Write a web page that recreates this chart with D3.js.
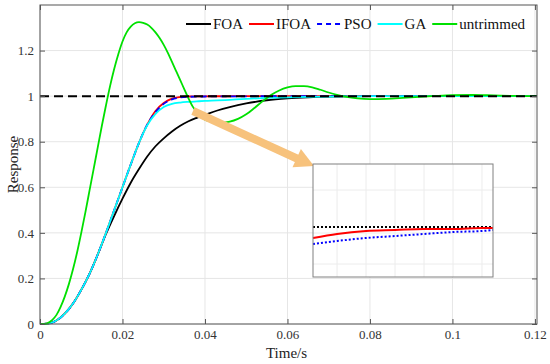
<!DOCTYPE html>
<html>
<head>
<meta charset="utf-8">
<script src="https://cdn.jsdelivr.net/npm/d3@7"></script>
<style>
  body { margin: 0; background: #fff; }
  svg { font-family: "Liberation Serif", "Times New Roman", serif; }
</style>
</head>
<body>
<div id="chart"></div>
<script>
// shared time grid for the four tuned responses
var time = [0, 0.002, 0.004, 0.006, 0.008, 0.010, 0.012, 0.014, 0.016, 0.018, 0.020, 0.022, 0.024,
            0.026, 0.028, 0.030, 0.032, 0.034, 0.036, 0.038, 0.040, 0.043, 0.046, 0.050, 0.055,
            0.060, 0.065, 0.070, 0.080, 0.090, 0.100, 0.110, 0.1205];
var foa  = [0, 0.002, 0.015, 0.045, 0.09, 0.15, 0.22, 0.305, 0.395, 0.475, 0.55, 0.62, 0.68,
            0.735, 0.78, 0.815, 0.845, 0.87, 0.89, 0.905, 0.918, 0.937, 0.952, 0.968, 0.982,
            0.99, 0.995, 0.998, 1, 1, 1, 1, 1];
var ifoa = [0, 0.002, 0.015, 0.045, 0.09, 0.15, 0.22, 0.305, 0.40, 0.50, 0.60, 0.70, 0.795,
            0.875, 0.935, 0.97, 0.989, 0.996, 0.9985, 0.9992, 0.9994, 0.9995, 0.9996, 0.9997, 0.9998,
            0.9999, 1, 1, 1, 1, 1, 1, 1];
var pso  = [0, 0.002, 0.015, 0.045, 0.09, 0.15, 0.22, 0.305, 0.40, 0.50, 0.60, 0.70, 0.795,
            0.875, 0.93, 0.966, 0.986, 0.994, 0.997, 0.998, 0.9985, 0.999, 0.9992, 0.9994, 0.9996,
            0.9998, 0.9999, 1, 1, 1, 1, 1, 1];
var ga   = [0, 0.002, 0.015, 0.045, 0.09, 0.15, 0.22, 0.305, 0.40, 0.50, 0.60, 0.70, 0.795,
            0.872, 0.922, 0.952, 0.966, 0.972, 0.975, 0.977, 0.979, 0.981, 0.984, 0.988, 0.992,
            0.995, 0.997, 0.998, 1, 1, 1, 1, 1];

// untrimmed response has its own time points
var untrimT = [0, 0.001, 0.002, 0.003, 0.004, 0.005, 0.006, 0.007, 0.008, 0.009, 0.010, 0.011,
               0.012, 0.013, 0.014, 0.015, 0.016, 0.017, 0.018, 0.019, 0.020, 0.021, 0.022, 0.023,
               0.024, 0.025, 0.026, 0.027, 0.028, 0.029, 0.030, 0.031, 0.032, 0.033, 0.034, 0.035,
               0.036, 0.037, 0.038, 0.039, 0.040, 0.042, 0.044, 0.046, 0.048, 0.050, 0.052, 0.054,
               0.056, 0.058, 0.060, 0.062, 0.064, 0.066, 0.068, 0.070, 0.072, 0.074, 0.077, 0.080,
               0.084, 0.088, 0.092, 0.096, 0.100, 0.105, 0.110, 0.115, 0.1205];
var untrimV = [0, 0, 0.005, 0.018, 0.04, 0.075, 0.12, 0.175, 0.24, 0.315, 0.40, 0.49,
               0.585, 0.68, 0.775, 0.87, 0.96, 1.045, 1.12, 1.185, 1.24, 1.28, 1.305, 1.32,
               1.325, 1.322, 1.314, 1.30, 1.28, 1.255, 1.225, 1.19, 1.15, 1.11, 1.07, 1.03,
               0.99, 0.955, 0.93, 0.91, 0.897, 0.887, 0.884, 0.888, 0.90, 0.92, 0.948, 0.978,
               1.005, 1.025, 1.038, 1.044, 1.044, 1.039, 1.028, 1.016, 1.006, 0.998, 0.99, 0.987,
               0.988, 0.992, 0.997, 1.001, 1.004, 1.005, 1.003, 1.001, 1.0];

var refValue = 1;

// zoomed inset (its own axes)
var insetT    = [0.0417, 0.05, 0.06, 0.07, 0.08, 0.09, 0.10, 0.1038];
var insetRef  = [1, 1, 1, 1, 1, 1, 1, 1];
var insetIfoa = [0.99989, 0.99993, 0.99996, 0.99997, 0.99998, 0.99998, 0.99999, 0.99999];
var insetPso  = [0.99983, 0.99986, 0.99989, 0.99991, 0.99993, 0.99995, 0.99996, 0.99997];

var xTicks = [0, 0.02, 0.04, 0.06, 0.08, 0.1, 0.12];
var yTicks = [0, 0.2, 0.4, 0.6, 0.8, 1, 1.2];

var names  = ["FOA", "IFOA", "PSO", "GA", "untrimmed"];
var colors = ["#000000", "#ff0000", "#0000ff", "#00ffff", "#00e000"];

var W = 550, H = 364;
var svg = d3.select("#chart").append("svg").attr("width", W).attr("height", H);

var x = d3.scaleLinear().domain([0, 0.1205]).range([40, 537]);
var y = d3.scaleLinear().domain([0, 1.4]).range([324, 5]);

// grid
var grid = svg.append("g");
grid.selectAll(".gx").data(xTicks).enter().append("line")
  .attr("x1", d => x(d)).attr("x2", d => x(d)).attr("y1", y(0)).attr("y2", y(1.4))
  .style("stroke", "#e6e6e6").style("stroke-width", 1);
grid.selectAll(".gy").data(yTicks).enter().append("line")
  .attr("x1", x(0)).attr("x2", x(0.1205)).attr("y1", d => y(d)).attr("y2", d => y(d))
  .style("stroke", "#e6e6e6").style("stroke-width", 1);

// curves
var line = d3.line().x(d => x(d[0])).y(d => y(d[1])).curve(d3.curveMonotoneX);
var series = [foa, ifoa, pso, ga];
[0, 1, 2, 3].forEach(function(i) {
  var p = svg.append("path")
    .datum(time.map((t, k) => [t, series[i][k]]))
    .attr("d", line)
    .style("fill", "none")
    .style("stroke", colors[i])
    .style("stroke-width", 1.8);
  if (names[i] == "PSO") p.style("stroke-dasharray", "6,4");
});
svg.append("path")
  .datum(untrimT.map((t, k) => [t, untrimV[k]]))
  .attr("d", line)
  .style("fill", "none").style("stroke", colors[4]).style("stroke-width", 1.8);

// reference step
svg.append("line")
  .attr("x1", x(0)).attr("x2", x(0.1205)).attr("y1", y(refValue)).attr("y2", y(refValue))
  .style("stroke", "#000").style("stroke-width", 2).style("stroke-dasharray", "9,5");

// frame + axes
var axisColor = "#555";
function styleAxis(g, showText) {
  g.select(".domain").remove();
  g.selectAll(".tick line").style("stroke", axisColor);
  g.selectAll(".tick text").style("fill", "#333").style("font-size", "13px")
    .style("font-family", "Liberation Serif");
  if (!showText) g.selectAll(".tick text").remove();
}
svg.append("g").attr("transform", "translate(0," + y(0) + ")")
  .call(d3.axisBottom(x).tickValues(xTicks).tickSize(-5).tickPadding(6).tickFormat(d3.format("")))
  .call(g => styleAxis(g, true));
svg.append("g").attr("transform", "translate(0," + y(1.4) + ")")
  .call(d3.axisTop(x).tickValues(xTicks).tickSize(-5))
  .call(g => styleAxis(g, false));
svg.append("g").attr("transform", "translate(" + x(0) + ",0)")
  .call(d3.axisLeft(y).tickValues(yTicks).tickSize(-5).tickPadding(6).tickFormat(d3.format("")))
  .call(g => styleAxis(g, true));
svg.append("g").attr("transform", "translate(" + x(0.1205) + ",0)")
  .call(d3.axisRight(y).tickValues(yTicks).tickSize(-5))
  .call(g => styleAxis(g, false));
svg.append("rect")
  .attr("x", x(0)).attr("y", y(1.4)).attr("width", x(0.1205) - x(0)).attr("height", y(0) - y(1.4))
  .style("fill", "none").style("stroke", axisColor).style("stroke-width", 1);

// axis titles
svg.append("text").attr("x", (x(0) + x(0.1205)) / 2 - 2).attr("y", 358)
  .attr("text-anchor", "middle").style("font-size", "15px").style("fill", "#222").text("Time/s");
svg.append("text").attr("transform", "translate(18," + (y(0.7)) + ") rotate(-90)")
  .attr("text-anchor", "middle").style("font-size", "15px").style("fill", "#222").text("Response");

// legend
var lg = svg.append("g");
var lx = 186, ly = 24;
names.forEach(function(n, i) {
  lg.append("line").attr("x1", lx).attr("x2", lx + 25).attr("y1", ly).attr("y2", ly)
    .style("stroke", colors[i]).style("stroke-width", 2)
    .style("stroke-dasharray", n == "PSO" ? "5,4" : null);
  var t = lg.append("text").attr("x", lx + 27).attr("y", ly + 5)
    .style("font-size", "15px").style("fill", "#111").text(n);
  lx += 27 + t.node().getComputedTextLength() + 6;
});

// arrow to inset
var arrowColor = "#f7c27c";
svg.append("line").attr("x1", 193).attr("y1", 111).attr("x2", 298).attr("y2", 159)
  .style("stroke", arrowColor).style("stroke-width", 8);
svg.append("path").attr("d", "M314,166 L292.5,167.2 L300.9,149 Z").style("fill", arrowColor);

// inset
var ix = d3.scaleLinear().domain([0.0417, 0.1038]).range([313, 493]);
var iy = d3.scaleLinear().domain([0.9995, 1.00063]).range([277, 164]);
var inset = svg.append("g");
inset.append("rect").attr("x", 313).attr("y", 164).attr("width", 180).attr("height", 113)
  .style("fill", "#fff");
var insetXTicks = [0.05, 0.06, 0.07, 0.08, 0.09, 0.10];
var insetYTicks = [0.99963, 0.99994, 1.00037];
inset.selectAll(".igx").data(insetXTicks).enter().append("line")
  .attr("x1", d => ix(d)).attr("x2", d => ix(d)).attr("y1", 164).attr("y2", 277)
  .style("stroke", "#ececec");
inset.selectAll(".igy").data(insetYTicks).enter().append("line")
  .attr("x1", 313).attr("x2", 493).attr("y1", d => iy(d)).attr("y2", d => iy(d))
  .style("stroke", "#ececec");
var iline = d3.line().x(d => ix(d[0])).y(d => iy(d[1])).curve(d3.curveMonotoneX);
inset.append("path").datum(insetT.map((t, k) => [t, insetRef[k]])).attr("d", iline)
  .style("fill", "none").style("stroke", "#000").style("stroke-width", 2).style("stroke-dasharray", "2,2");
inset.append("path").datum(insetT.map((t, k) => [t, insetIfoa[k]])).attr("d", iline)
  .style("fill", "none").style("stroke", "#ff0000").style("stroke-width", 2);
inset.append("path").datum(insetT.map((t, k) => [t, insetPso[k]])).attr("d", iline)
  .style("fill", "none").style("stroke", "#0000ff").style("stroke-width", 2).style("stroke-dasharray", "2,2");
inset.append("rect").attr("x", 313).attr("y", 164).attr("width", 180).attr("height", 113)
  .style("fill", "none").style("stroke", "#808080").style("stroke-width", 1);
</script>
</body>
</html>
